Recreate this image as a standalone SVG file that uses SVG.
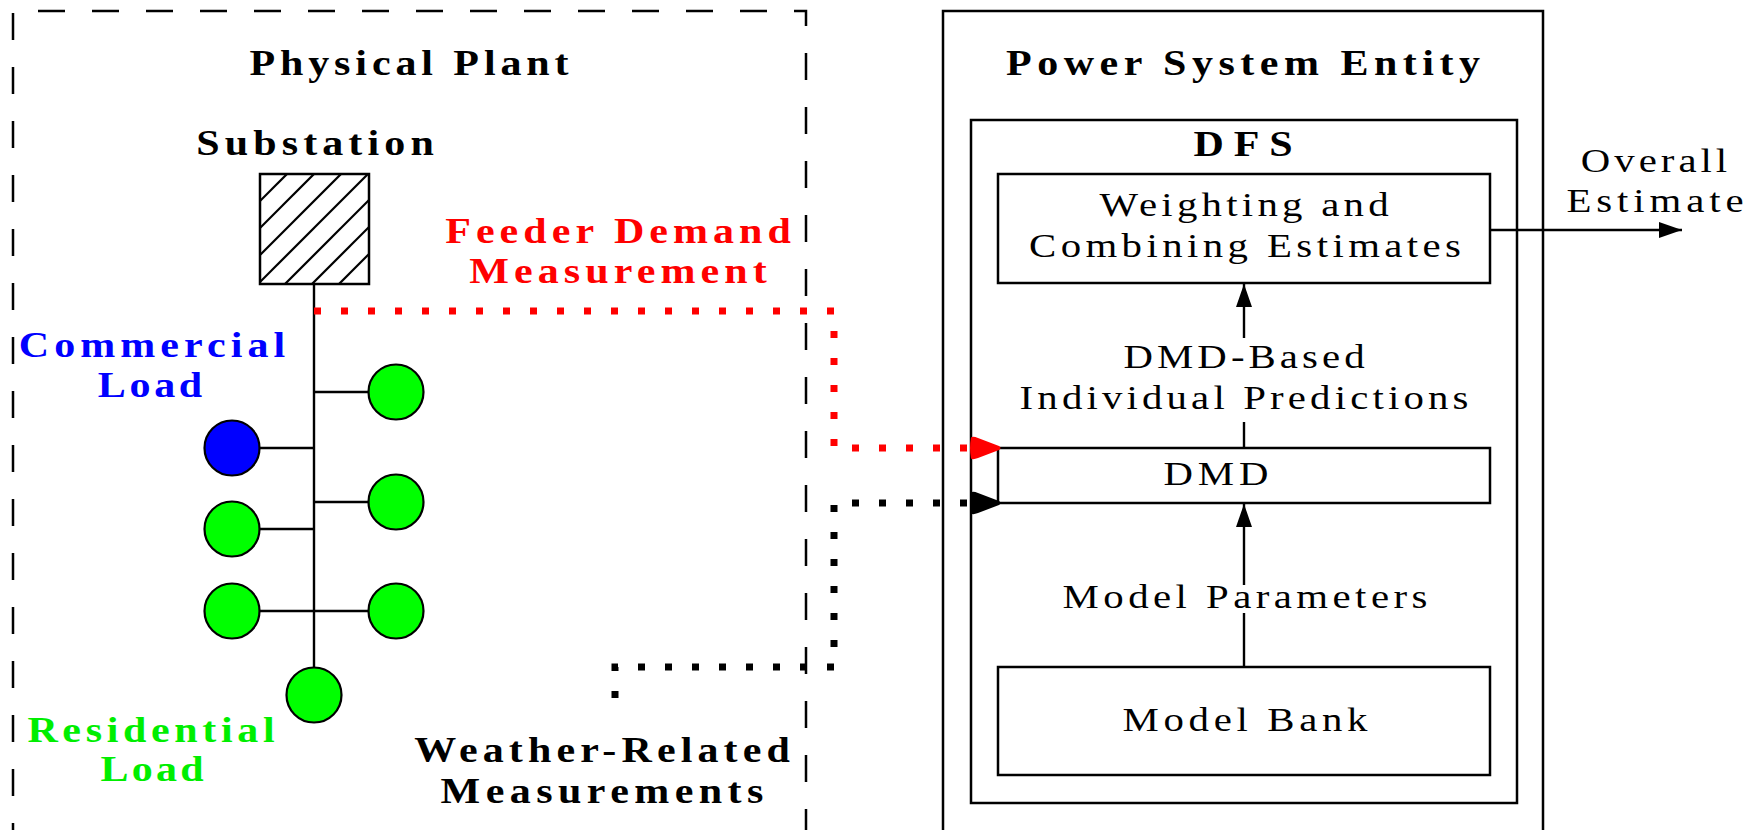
<svg xmlns="http://www.w3.org/2000/svg" width="1758" height="830" viewBox="0 0 1758 830">
<style>
  .b { font-family: "Liberation Serif", "DejaVu Serif", serif; font-weight: bold; font-size: 35px; text-anchor: middle; }
  .r { font-family: "Liberation Serif", "DejaVu Serif", serif; font-size: 34px; text-anchor: middle; fill: #000; }
  .box { fill: none; stroke: #000; stroke-width: 2.5; }
  .ln { fill: none; stroke: #000; stroke-width: 2.4; }
  .load { stroke: #000; stroke-width: 2.2; }
  .res { fill: #00ff00; }
  .com { fill: #0000ff; }
  .dotr { fill: none; stroke: #ff0000; stroke-width: 7; stroke-dasharray: 7 20; }
  .dotk { fill: none; stroke: #000; stroke-width: 7; stroke-dasharray: 7 20; }
  .dash { fill: none; stroke: #000; stroke-width: 2.5; stroke-dasharray: 27 27; }
</style>
<defs>
  <marker id="ah" markerUnits="userSpaceOnUse" viewBox="0 -9 23 18" refX="23" refY="0" markerWidth="23" markerHeight="18" orient="auto">
    <path d="M0,-8 L23,0 L0,8 z" fill="#000"/>
  </marker>
  <marker id="bigR" markerUnits="userSpaceOnUse" viewBox="-3 -13 35 26" refX="31" refY="0" markerWidth="35" markerHeight="26" orient="auto">
    <path d="M1,-10.5 Q3,-12 8,-10 L29,-2 Q32,0 29,2 L8,10 Q3,12 1,10.5 Q-1,0 1,-10.5 z" fill="#ff0000"/>
  </marker>
  <marker id="bigK" markerUnits="userSpaceOnUse" viewBox="-3 -13 35 26" refX="31" refY="0" markerWidth="35" markerHeight="26" orient="auto">
    <path d="M1,-10.5 Q3,-12 8,-10 L29,-2 Q32,0 29,2 L8,10 Q3,12 1,10.5 Q-1,0 1,-10.5 z" fill="#000"/>
  </marker>
  <clipPath id="subclip"><rect x="260" y="174" width="109" height="110"/></clipPath>
</defs>
<rect width="1758" height="830" fill="#fff"/>

<!-- Physical plant container -->
<g id="physical-plant">
  <path class="dash" d="M13,850 V11 H806 V850"/>
  <text class="b" transform="translate(409,75) scale(1.2,1)" textLength="266" lengthAdjust="spacing">Physical Plant</text>
</g>

<g id="substation">
  <text class="b" transform="translate(315,155) scale(1.2,1)" textLength="198" lengthAdjust="spacing">Substation</text>
  <g clip-path="url(#subclip)" stroke="#000" stroke-width="2.2">
    <line x1="200" y1="261" x2="330" y2="131"/>
    <line x1="200" y1="288" x2="350" y2="138"/>
    <line x1="200" y1="315" x2="370" y2="145"/>
    <line x1="200" y1="342" x2="390" y2="152"/>
    <line x1="220" y1="349" x2="400" y2="169"/>
    <line x1="240" y1="356" x2="420" y2="176"/>
    <line x1="260" y1="363" x2="440" y2="183"/>
  </g>
  <rect class="box" x="260" y="174" width="109" height="110"/>
</g>

<!-- Feeder lines -->
<g id="feeder">
  <line class="ln" x1="314" y1="284" x2="314" y2="667"/>
  <line class="ln" x1="314" y1="392" x2="368" y2="392"/>
  <line class="ln" x1="260" y1="448" x2="314" y2="448"/>
  <line class="ln" x1="314" y1="502" x2="368" y2="502"/>
  <line class="ln" x1="260" y1="529" x2="314" y2="529"/>
  <line class="ln" x1="260" y1="611" x2="368" y2="611"/>
</g>

<g id="load-r1"><circle class="load res" cx="396" cy="392" r="27.5"/></g>
<g id="load-c1"><circle class="load com" cx="232" cy="448" r="27.5"/></g>
<g id="load-r2"><circle class="load res" cx="396" cy="502" r="27.5"/></g>
<g id="load-r3"><circle class="load res" cx="232" cy="529" r="27.5"/></g>
<g id="load-r4"><circle class="load res" cx="232" cy="611" r="27.5"/></g>
<g id="load-r5"><circle class="load res" cx="396" cy="611" r="27.5"/></g>
<g id="load-r6"><circle class="load res" cx="314" cy="695" r="27.5"/></g>

<g id="commercial-label" fill="#0000ff">
  <text class="b" transform="translate(152,357) scale(1.2,1)" textLength="222" lengthAdjust="spacing">Commercial</text>
  <text class="b" transform="translate(150,397) scale(1.2,1)" textLength="87" lengthAdjust="spacing">Load</text>
</g>
<g id="residential-label" fill="#00ee00">
  <text class="b" transform="translate(151,742) scale(1.2,1)" textLength="206" lengthAdjust="spacing">Residential</text>
  <text class="b" transform="translate(152,781) scale(1.2,1)" textLength="86" lengthAdjust="spacing">Load</text>
</g>
<g id="feeder-label" fill="#ff0000">
  <text class="b" transform="translate(618,243) scale(1.2,1)" textLength="288" lengthAdjust="spacing">Feeder Demand</text>
  <text class="b" transform="translate(618,283) scale(1.2,1)" textLength="248" lengthAdjust="spacing">Measurement</text>
</g>
<g id="weather-label" fill="#000">
  <text class="b" transform="translate(602,762) scale(1.2,1)" textLength="313" lengthAdjust="spacing">Weather-Related</text>
  <text class="b" transform="translate(602,803) scale(1.2,1)" textLength="269" lengthAdjust="spacing">Measurements</text>
</g>

<!-- Power system entity -->
<g id="power-system-entity">
  <path class="box" d="M943,850 V11 H1543 V850"/>
  <text class="b" transform="translate(1243,75) scale(1.2,1)" textLength="395" lengthAdjust="spacing">Power System Entity</text>
</g>
<g id="dfs">
  <rect class="box" x="971" y="120" width="546" height="683"/>
  <text class="b" transform="translate(1243,156) scale(1.2,1)" textLength="82.5" lengthAdjust="spacing">DFS</text>
</g>
<g id="weighting">
  <rect class="box" x="998" y="174" width="492" height="109"/>
  <text class="r" transform="translate(1244,216) scale(1.2,1)" textLength="241" lengthAdjust="spacing">Weighting and</text>
  <text class="r" transform="translate(1245,257) scale(1.2,1)" textLength="360" lengthAdjust="spacing">Combining Estimates</text>
</g>
<g id="dmd">
  <rect class="box" x="998" y="448" width="492" height="55"/>
  <text class="r" transform="translate(1216,485) scale(1.2,1)" textLength="87.5" lengthAdjust="spacing">DMD</text>
</g>
<g id="model-bank">
  <rect class="box" x="998" y="667" width="492" height="108"/>
  <text class="r" transform="translate(1245,731) scale(1.2,1)" textLength="204" lengthAdjust="spacing">Model Bank</text>
</g>

<!-- Connectors -->
<g id="connectors">
  <path class="dotr" d="M314,311 H834 V448 H1001" marker-end="url(#bigR)"/>
  <path class="dotk" d="M615,698 V667 H834 V503 H1001" marker-end="url(#bigK)"/>
  <line class="ln" x1="1244" y1="448" x2="1244" y2="422"/>
  <line class="ln" x1="1244" y1="338" x2="1244" y2="284" marker-end="url(#ah)"/>
  <line class="ln" x1="1244" y1="667" x2="1244" y2="613"/>
  <line class="ln" x1="1244" y1="585" x2="1244" y2="504" marker-end="url(#ah)"/>
  <line class="ln" x1="1490" y1="230" x2="1682" y2="230" marker-end="url(#ah)"/>
  <text class="r" transform="translate(1244,368) scale(1.2,1)" textLength="201" lengthAdjust="spacing">DMD-Based</text>
  <text class="r" transform="translate(1244,409) scale(1.2,1)" textLength="374" lengthAdjust="spacing">Individual Predictions</text>
  <text class="r" transform="translate(1245,608) scale(1.2,1)" textLength="304" lengthAdjust="spacing">Model Parameters</text>
  <text class="r" transform="translate(1654,172) scale(1.2,1)" textLength="122" lengthAdjust="spacing">Overall</text>
  <text class="r" transform="translate(1655,212) scale(1.2,1)" textLength="147.5" lengthAdjust="spacing">Estimate</text>
</g>
</svg>
